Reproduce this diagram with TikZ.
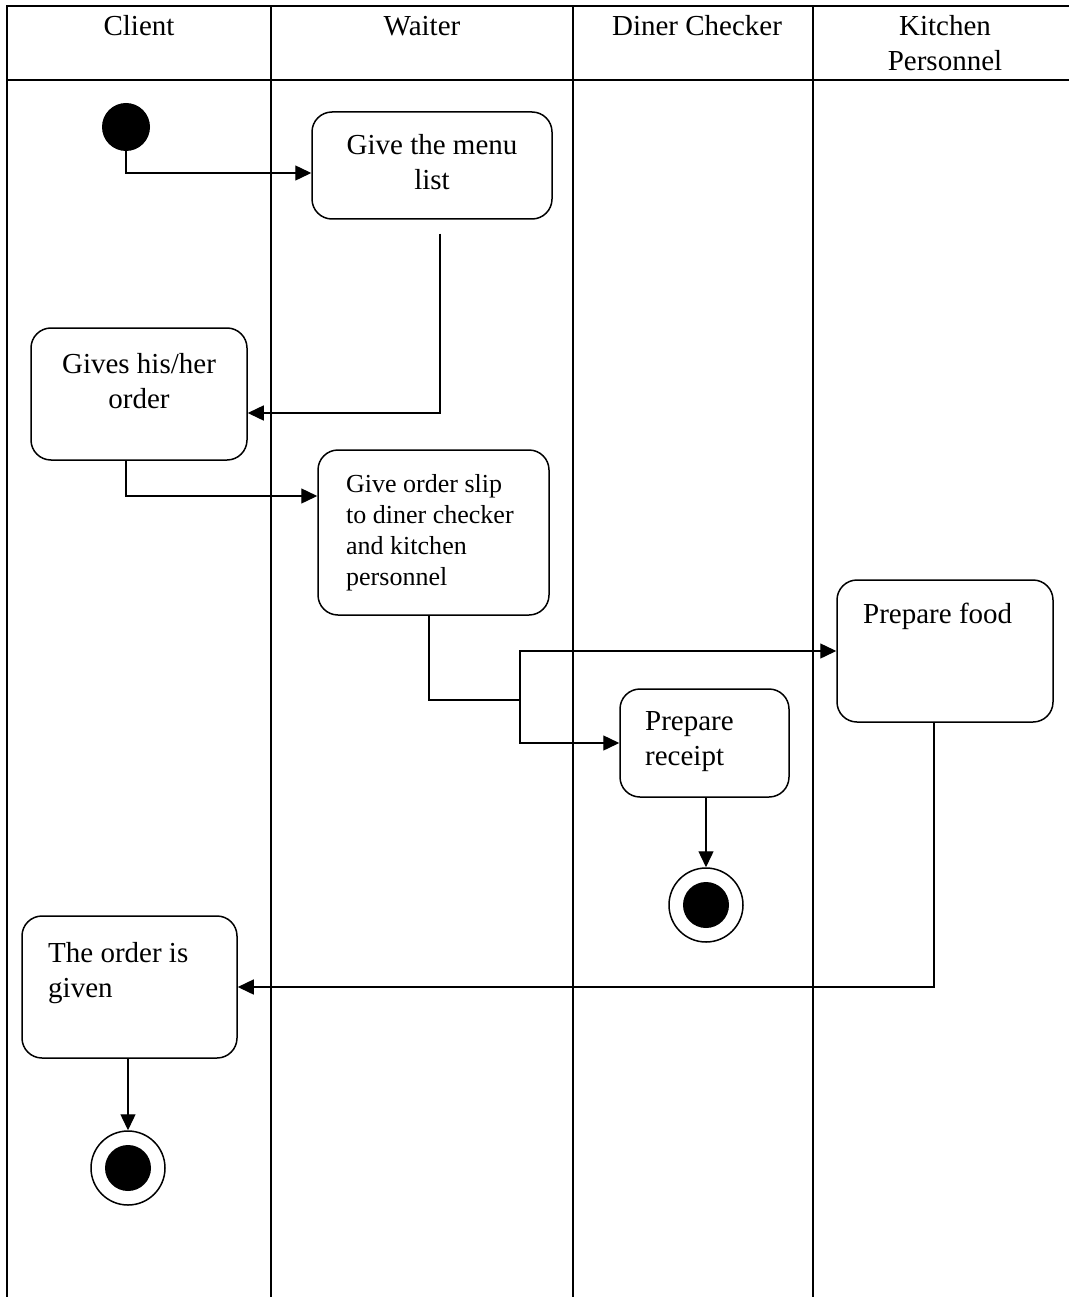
\documentclass[tikz,border=0pt]{standalone}
\usepackage{fontspec}
\setmainfont{Liberation Serif}
\usetikzlibrary{arrows.meta}

\newcommand{\boxFont}{\fontsize{29}{35}\selectfont}
\newcommand{\smallBoxFont}{\fontsize{26}{31}\selectfont}

\tikzset{
  lane/.style = {line width=2pt},
  act/.style = {draw, rounded corners=20pt, line width=1.5pt, inner sep=0pt},
  txt/.style = {inner sep=0pt, font=\boxFont},
  flow/.style = {line width=1.4pt, -{Triangle[length=16pt,width=15pt]}},
  link/.style = {line width=1.4pt},
  startnode/.style = {circle, fill=black, minimum size=48pt, inner sep=0pt},
  endnode/.style = {circle, draw, line width=1.5pt, minimum size=74pt, inner sep=0pt,
    path picture={\fill (path picture bounding box.center) circle (23pt);}}
}

\begin{document}
\begin{tikzpicture}[x=1pt, y=-1pt]

    % page
    \useasboundingbox (0,0) rectangle (1069,1297);

    % lanes
    \draw[lane] (7,1297) -- (7,6) -- (1069,6);
    \draw[lane] (7,80) -- (1069,80);
    \draw[lane] (271,6) -- (271,1297);
    \draw[lane] (573,6) -- (573,1297);
    \draw[lane] (813,6) -- (813,1297);

    % lane titles (base = last line)
    \node[txt, anchor=base] (hClient) at (139,36) {Client};
    \node[txt, anchor=base] (hWaiter) at (422,36) {Waiter};
    \node[txt, anchor=base] (hChecker) at (697,36) {Diner Checker};
    \node[txt, anchor=base, align=center] (hKitchen) at (945,71) {Kitchen\\Personnel};

    % start
    \node[startnode] (start) at (126,127) {};

    % give the menu list
    \node[act, minimum width=240pt, minimum height=107pt] (menu) at (432,165.5) {};
    \node[txt, anchor=base, align=center] (menuTxt) at (432,190) {Give the menu\\list};

    % gives his/her order
    \node[act, minimum width=216pt, minimum height=132pt] (gives) at (139,394) {};
    \node[txt, anchor=base, align=center] (givesTxt) at (139,408) {Gives his/her\\order};

    % give order slip
    \node[act, minimum width=231pt, minimum height=165pt] (slip) at (433.5,532.5) {};
    \node[txt, font=\smallBoxFont, anchor=base west, align=left] (slipTxt) at (346,585)
        {Give order slip\\to diner checker\\and kitchen\\personnel};

    % prepare food
    \node[act, minimum width=216pt, minimum height=142pt] (food) at (945,651) {};
    \node[txt, anchor=base west] (foodTxt) at (863,623) {Prepare food};

    % prepare receipt
    \node[act, minimum width=169pt, minimum height=108pt] (receipt) at (704.5,743) {};
    \node[txt, anchor=base west, align=left] (receiptTxt) at (645,765) {Prepare\\receipt};

    % the order is given
    \node[act, minimum width=215pt, minimum height=142pt] (given) at (129.5,987) {};
    \node[txt, anchor=base west, align=left] (givenTxt) at (48,997) {The order is\\given};

    % ends
    \node[endnode] (endChecker) at (706,905) {};
    \node[endnode] (endClient) at (128,1168) {};

    % fork point
    \coordinate (fork) at (520,700);

    % flows
    \draw[flow] (start.south) |- ([yshift=-7.5pt]menu.west);
    \draw[flow] ([xshift=8pt,yshift=-14pt]menu.south) |- ([yshift=-19pt]gives.east);
    \draw[flow] ([xshift=-13pt]gives.south) |- ([yshift=36.5pt]slip.west);
    \draw[link] ([xshift=-4.5pt]slip.south) |- (fork);
    \draw[flow] (fork) |- (food.west);
    \draw[flow] (fork) |- (receipt.west);
    \draw[flow] (receipt.south -| endChecker) -- (endChecker.north);
    \draw[flow] ([xshift=-11pt]food.south) |- (given.east);
    \draw[flow] (given.south -| endClient) -- (endClient.north);

\end{tikzpicture}
\end{document}
